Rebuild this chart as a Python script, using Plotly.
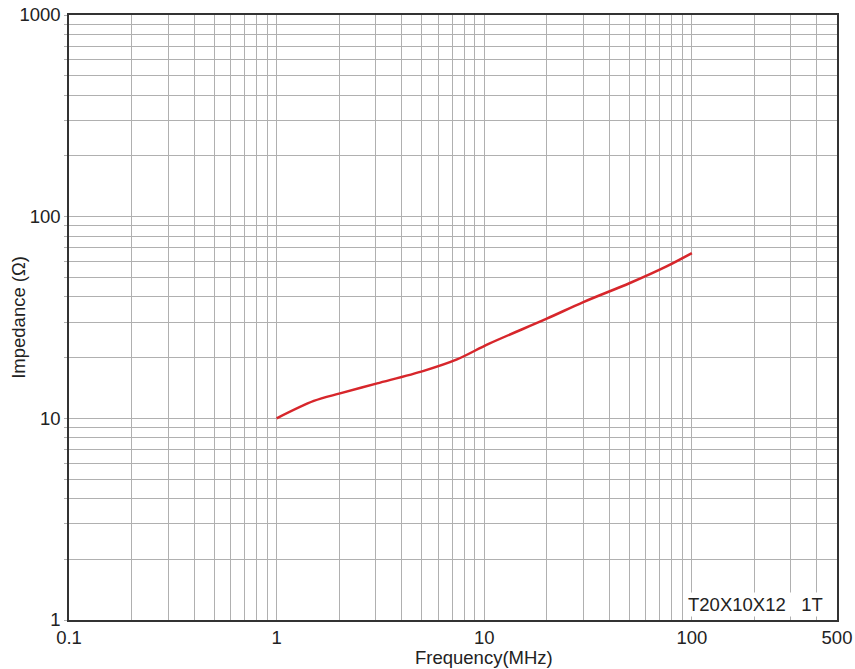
import plotly.graph_objects as go

# Data
freq_mhz = [1.0, 1.51, 2.02, 3.05, 5.11, 7.39, 10.5, 20.0, 30.0, 50.3, 75.5, 100.0]
impedance = [10.0, 12.2, 13.3, 14.9, 17.2, 19.6, 23.4, 31.2, 37.7, 46.9, 56.7, 66.0]

x_labels = {0.1: "0.1", 1: "1", 10: "10", 100: "100", 500: "500"}
y_labels = {1: "1", 10: "10", 100: "100", 1000: "1000"}

x_grid = [m * d for d in (0.1, 1, 10, 100) for m in range(1, 10)] + [500]
x_grid = [round(v, 4) for v in x_grid if v <= 500]
y_grid = [m * d for d in (1, 10, 100) for m in range(1, 10)] + [1000]

x_text = [x_labels.get(v, "") for v in x_grid]
y_text = [y_labels.get(v, "") for v in y_grid]

fig = go.Figure()
fig.add_trace(go.Scatter(
    x=freq_mhz, y=impedance, mode="lines",
    line=dict(color="#d7262b", width=2.5, shape="spline", smoothing=0.9),
    showlegend=False,
))

font = dict(family="Liberation Sans, Arial, sans-serif", size=18.5, color="#222")

fig.update_layout(
    width=855, height=669,
    margin=dict(l=69, r=18, t=15, b=49),
    paper_bgcolor="white", plot_bgcolor="white",
    font=font,
    xaxis=dict(
        type="log", range=[-1, 2.69897], automargin=False,
        tickvals=x_grid, ticktext=x_text,
        showgrid=True, gridcolor="#b0b0b0", gridwidth=1,
        showline=True, linecolor="#333", linewidth=1.5, mirror=True,
        ticks="", zeroline=False,
        tickfont=font,
    ),
    yaxis=dict(
        type="log", range=[0, 3], automargin=False,
        tickvals=y_grid, ticktext=y_text,
        showgrid=True, gridcolor="#b0b0b0", gridwidth=1,
        showline=True, linecolor="#333", linewidth=1.5, mirror=True,
        ticks="outside", ticklen=3, tickcolor="#b0b0b0",
        zeroline=False,
        tickfont=font,
    ),
    annotations=[
        dict(
            x=0.985, y=0.005, xref="paper", yref="paper",
            xanchor="right", yanchor="bottom",
            text="T20X10X12   1T", showarrow=False,
            font=font, bgcolor="white",
        ),
        dict(
            x=0.540, y=-0.082, xref="paper", yref="paper",
            xanchor="center", yanchor="bottom",
            text="Frequency(MHz)", showarrow=False, font=font,
        ),
        dict(
            x=-0.066, y=0.5, xref="paper", yref="paper",
            xanchor="center", yanchor="middle", textangle=-90,
            text="Impedance (Ω)", showarrow=False, font=font,
        ),
    ],
)

fig.write_html(
    "out.html",
    config={"displayModeBar": False},
    post_script="document.body.style.margin='0';document.body.style.padding='0';",
)
